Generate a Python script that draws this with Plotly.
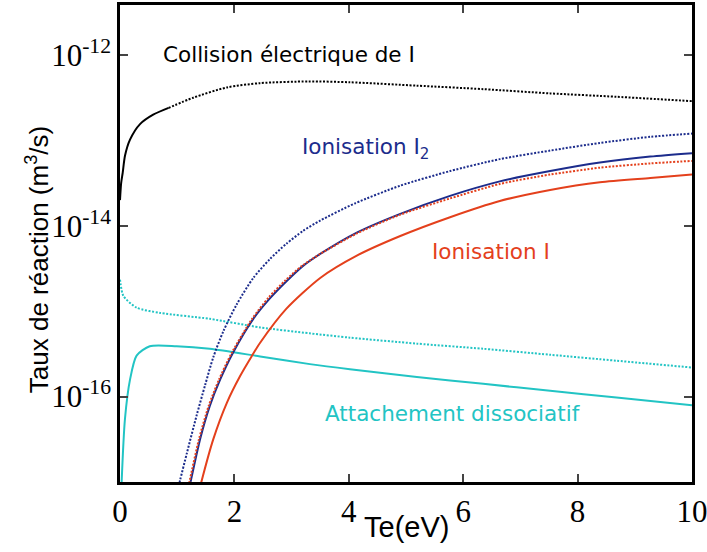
import plotly.graph_objects as go

# Te (eV) and reaction rates (m^3/s)
te_coll_solid = [0.0, 0.02, 0.047, 0.087, 0.175, 0.35, 0.58, 0.85]
k_coll_solid = [2.0e-14, 3.16e-14, 4.17e-14, 6.6e-14, 1.02e-13, 1.55e-13, 2.0e-13, 2.4e-13]
te_coll_dot = [0.85, 1.28, 1.87, 2.45, 3.3, 4.02, 5.19, 6.35, 7.52, 8.68, 10.0]
k_coll_dot = [2.4e-13, 3.16e-13, 4.17e-13, 4.68e-13, 4.9e-13, 4.79e-13, 4.37e-13, 3.98e-13, 3.55e-13, 3.24e-13, 2.88e-13]

te_i2_dot = [0.98, 1.05, 1.17, 1.34, 1.49, 1.63, 1.81, 2.04, 2.33, 2.62, 2.91, 3.2, 3.5, 4.1, 4.9, 5.77, 6.64, 7.52, 8.39, 9.27, 10.0]
k_i2_dot = [6.76e-18, 1.05e-17, 2.19e-17, 6.03e-17, 1.38e-16, 2.88e-16, 5.89e-16, 1.20e-15, 2.45e-15, 4.07e-15, 6.17e-15, 8.71e-15, 1.15e-14, 1.82e-14, 2.95e-14, 4.37e-14, 6.03e-14, 7.59e-14, 9.33e-14, 1.10e-13, 1.20e-13]

te_i2_solid = [1.16, 1.24, 1.40, 1.57, 1.75, 1.98, 2.33, 2.62, 2.91, 3.2, 3.5, 4.14, 4.9, 5.77, 6.64, 7.52, 8.39, 9.27, 10.0]
k_i2_solid = [6.03e-18, 1.05e-17, 3.16e-17, 7.76e-17, 1.58e-16, 3.31e-16, 8.13e-16, 1.41e-15, 2.24e-15, 3.39e-15, 4.68e-15, 8.32e-15, 1.38e-14, 2.24e-14, 3.31e-14, 4.37e-14, 5.50e-14, 6.46e-14, 7.08e-14]

te_i_dot = [1.14, 1.22, 1.38, 1.55, 1.73, 1.96, 2.31, 2.60, 2.89, 3.18, 3.5, 4.14, 4.9, 5.77, 6.64, 7.52, 8.39, 9.27, 10.0]
k_i_dot = [6.03e-18, 1.05e-17, 3.16e-17, 7.76e-17, 1.58e-16, 3.31e-16, 8.13e-16, 1.45e-15, 2.29e-15, 3.39e-15, 4.68e-15, 8.13e-15, 1.35e-14, 2.09e-14, 3.09e-14, 3.98e-14, 4.79e-14, 5.37e-14, 5.75e-14]

te_i_solid = [1.36, 1.43, 1.63, 1.87, 2.10, 2.30, 2.45, 2.91, 3.5, 4.14, 4.9, 5.77, 6.64, 7.52, 8.39, 9.27, 10.0]
k_i_solid = [6.76e-18, 1.05e-17, 3.16e-17, 8.51e-17, 1.74e-16, 2.95e-16, 4.27e-16, 1.07e-15, 2.45e-15, 4.47e-15, 7.59e-15, 1.26e-14, 1.95e-14, 2.63e-14, 3.24e-14, 3.63e-14, 3.98e-14]

te_att_dot = [0.0, 0.06, 0.29, 0.7, 1.57, 2.45, 3.32, 4.02, 5.19, 6.35, 7.52, 8.68, 10.0]
k_att_dot = [2.34e-15, 1.51e-15, 1.10e-15, 9.55e-16, 8.13e-16, 6.46e-16, 5.5e-16, 4.9e-16, 4.17e-16, 3.63e-16, 3.09e-16, 2.63e-16, 2.19e-16]

te_att_solid = [0.02, 0.03, 0.087, 0.175, 0.29, 0.52, 0.99, 1.57, 2.45, 3.32, 4.02, 5.19, 6.35, 7.52, 8.68, 10.0]
k_att_solid = [6.3e-18, 1.05e-17, 5.5e-17, 1.58e-16, 3.02e-16, 3.89e-16, 3.89e-16, 3.63e-16, 2.95e-16, 2.4e-16, 2.09e-16, 1.70e-16, 1.41e-16, 1.17e-16, 9.77e-17, 7.94e-17]

x_ticks = [0, 2, 4, 6, 8, 10]
y_tickvals = [1e-16, 1e-14, 1e-12]
y_ticktext = ["10<sup>-16</sup>", "10<sup>-14</sup>", "10<sup>-12</sup>"]

BLACK = "#000000"
BLUE = "#1c2c8c"
RED = "#e4401c"
CYAN = "#22c4c4"

series = [
    (te_att_dot, k_att_dot, CYAN, "dot"),
    (te_att_solid, k_att_solid, CYAN, "solid"),
    (te_i_solid, k_i_solid, RED, "solid"),
    (te_i2_solid, k_i2_solid, BLUE, "solid"),
    (te_i_dot, k_i_dot, RED, "dot"),
    (te_i2_dot, k_i2_dot, BLUE, "dot"),
    (te_coll_solid, k_coll_solid, BLACK, "solid"),
    (te_coll_dot, k_coll_dot, BLACK, "dot"),
]

fig = go.Figure()
for xs, ys, col, dash in series:
    fig.add_trace(go.Scatter(
        x=xs, y=ys, mode="lines",
        line=dict(color=col, width=2, dash="2px,1.6px" if dash == "dot" else "solid",
                  shape="spline", smoothing=0.7),
        showlegend=False, hoverinfo="skip"))

ann_font = "DejaVu Sans"
fig.add_annotation(x=2.95, y=-12.0, text="Collision électrique de I", showarrow=False,
                   font=dict(family=ann_font, size=21.5, color=BLACK))
fig.add_annotation(x=4.3, y=-13.1, text="Ionisation I<sub>2</sub>", showarrow=False,
                   font=dict(family=ann_font, size=21.5, color=BLUE))
fig.add_annotation(x=6.49, y=-14.3, text="Ionisation I", showarrow=False,
                   font=dict(family=ann_font, size=21.5, color=RED))
fig.add_annotation(x=5.82, y=-16.2, text="Attachement dissociatif", showarrow=False,
                   font=dict(family=ann_font, size=21.5, color=CYAN))

# axis titles
fig.add_annotation(xref="paper", yref="paper", x=0.5, y=-0.095, yanchor="middle",
                   text="Te(eV)", showarrow=False,
                   font=dict(family="Liberation Sans", size=29, color="black"))
fig.add_annotation(xref="paper", x=-(120 - 37) / 572, xanchor="center", yref="paper", y=0.465,
                   text="Taux de réaction (m<sup>3</sup>/s)", textangle=-90, showarrow=False,
                   font=dict(family="Liberation Sans", size=26, color="black"))

fig.update_layout(
    width=707, height=552,
    margin=dict(l=120, r=15, t=5, b=70),
    paper_bgcolor="white", plot_bgcolor="white",
)
fig.update_xaxes(
    range=[0, 10], tickvals=x_ticks, ticks="inside", ticklen=8, tickwidth=2,
    showline=True, linecolor="black", linewidth=2.5, mirror="ticks", showgrid=False, zeroline=False,
    tickfont=dict(family="Liberation Serif", size=31, color="black"), automargin=False,
    ticklabeloverflow="allow",
)
fig.update_yaxes(
    type="log", range=[-17, -11.415], tickvals=y_tickvals, ticktext=y_ticktext,
    ticks="inside", ticklen=8, tickwidth=2,
    showline=True, linecolor="black", linewidth=2.5, mirror="ticks", showgrid=False, zeroline=False,
    tickfont=dict(family="Liberation Serif", size=31, color="black"), automargin=False,
    ticklabeloverflow="allow",
)

fig.write_html("out.html", config={"displayModeBar": False},
               post_script="document.body.style.margin='0';document.body.style.overflow='hidden';")
